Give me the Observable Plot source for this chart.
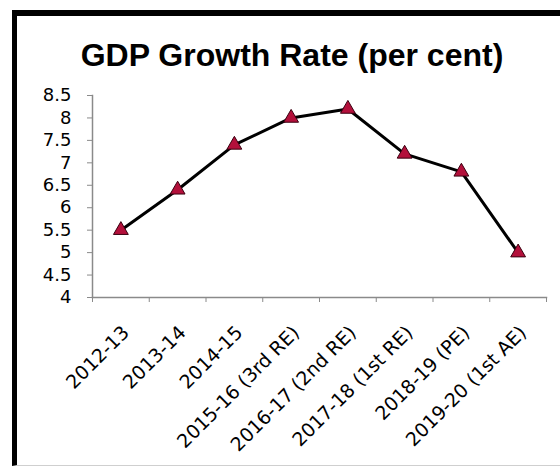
<!DOCTYPE html>
<html><head><meta charset="utf-8">
<script src="https://cdn.jsdelivr.net/npm/d3@7"></script>
<script src="https://cdn.jsdelivr.net/npm/@observablehq/plot@0.6"></script>
<style>
html,body{margin:0;padding:0;background:#fff;overflow:hidden}
#wrap{position:relative;width:560px;height:472px;overflow:hidden;background:#fff}
#frame{position:absolute;left:12px;top:10px;width:620px;height:456px;border-left:5px solid #000;border-top:6px solid #000;border-bottom:1px solid #cfcfcf;box-sizing:border-box;pointer-events:none}
#title{position:relative;height:72px;width:584px;text-align:center;font:bold 32px "Liberation Sans",Arial,sans-serif;line-height:32px;padding-top:39px;box-sizing:border-box;color:#000}
#chart svg{display:block}
</style></head>
<body>
<div id="wrap">
<div id="frame"></div>
<div id="title">GDP Growth Rate (per cent)</div>
<div id="chart"></div>
</div>
<script>
const categories = ["2012-13","2013-14","2014-15","2015-16 (3rd RE)","2016-17 (2nd RE)","2017-18 (1st RE)","2018-19 (PE)","2019-20 (1st AE)"];
const growth = [5.5, 6.4, 7.4, 8.0, 8.2, 7.2, 6.8, 5.0];
const yTicks = [4, 4.5, 5, 5.5, 6, 6.5, 7, 7.5, 8, 8.5];

const data = categories.map((c, i) => ({idx: i + 0.5, cat: c, value: growth[i]}));
const boundaries = d3.range(0, categories.length + 1);

const chart = Plot.plot({
  width: 560,
  height: 400,
  marginLeft: 92,
  marginRight: 14,
  marginTop: 23,
  marginBottom: 175,
  style: {fontFamily: "'DejaVu Sans', sans-serif", fontSize: "18px", color: "#000", background: "transparent"},
  x: {type: "linear", domain: [0, categories.length]},
  y: {domain: [4, 8.5]},
  marks: [
    Plot.frame({anchor: "left", stroke: "#8a8a8a", strokeWidth: 1.5}),
    Plot.frame({anchor: "bottom", stroke: "#8a8a8a", strokeWidth: 1.5}),
    Plot.axisY({ticks: yTicks, tickFormat: d => String(d), tickSize: 5, tickPadding: 16, stroke: "#8a8a8a", label: null, fontSize: 18}),
    Plot.axisX({ticks: boundaries, tickFormat: () => "", tickSize: 5, stroke: "#8a8a8a", label: null}),
    Plot.axisX({ticks: data.map(d => d.idx), tickFormat: d => categories[Math.floor(d)], tickSize: 0, tickPadding: 32, dx: 5, tickRotate: -45, label: null, fontSize: 19}),
    Plot.line(data, {x: "idx", y: "value", stroke: "#000", strokeWidth: 3}),
    Plot.dot(data, {x: "idx", y: "value", symbol: "triangle", r: 5.5, fill: "#b3103b", stroke: "#3a0010", strokeWidth: 1})
  ]
});
document.getElementById("chart").appendChild(chart);
</script>
</body></html>
